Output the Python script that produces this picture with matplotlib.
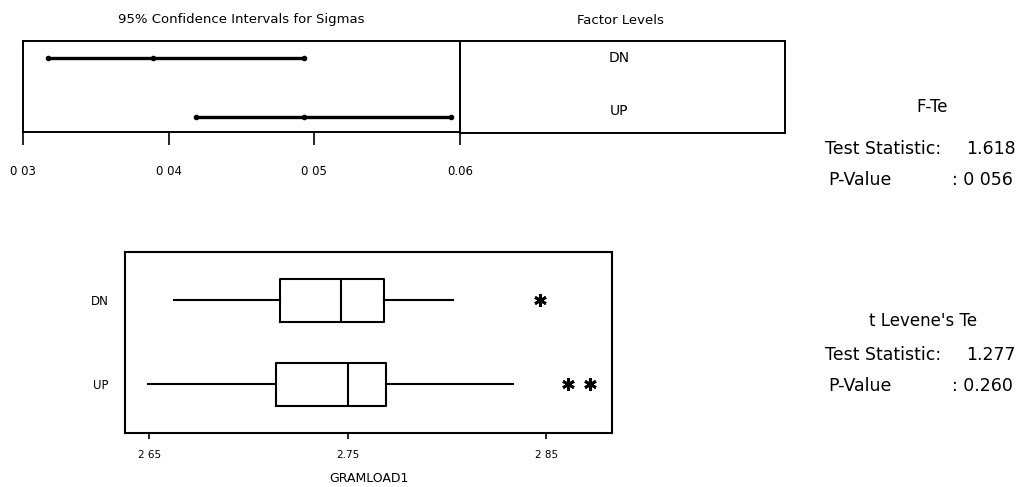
import matplotlib.pyplot as plt

# factor levels and 95% CI for sigma
levels = ["DN", "UP"]
sigma_lower = [0.0317, 0.0419]
sigma_point = [0.0389, 0.0493]
sigma_upper = [0.0493, 0.0594]
sigma_ticks = [0.03, 0.04, 0.05, 0.06]
sigma_tick_labels = ["0 03", "0 04", "0 05", "0.06"]

# boxplot summaries for GRAMLOAD1
whisker_low = [2.6625, 2.6492]
q1 = [2.7160, 2.7138]
median = [2.7463, 2.7502]
q3 = [2.7683, 2.7690]
whisker_high = [2.8028, 2.8330]
outliers = [[2.8466], [2.8610, 2.8719]]
load_ticks = [2.65, 2.75, 2.85]
load_tick_labels = ["2 65", "2.75", "2 85"]

f_test = ["1.618", "0 056"]
levene_test = ["1.277", "0.260"]

W, H = 1029, 487


def px_axes(fig, x0, y0, x1, y1):
    return fig.add_axes([x0 / W, 1 - y1 / H, (x1 - x0) / W, (y1 - y0) / H])


def px_text(fig, x, y, s, ha="left", size=12):
    fig.text(x / W, 1 - y / H, s, ha=ha, va="center", fontsize=size)


def main() -> int:
    plt.rcParams["font.family"] = "DejaVu Sans"
    fig = plt.figure(figsize=(W / 100, H / 100), dpi=100)
    positions = [1, 0]

    # confidence intervals for sigmas
    ax_ci = px_axes(fig, 23, 41, 460, 132)
    for pos, lo, pt, hi in zip(positions, sigma_lower, sigma_point, sigma_upper):
        ax_ci.plot([lo, hi], [pos, pos], color="black", lw=2.4, solid_capstyle="round")
        ax_ci.plot([lo, pt, hi], [pos] * 3, "o", color="black", ms=3)
    ax_ci.set_xlim(0.03, 0.06)
    ax_ci.set_ylim(-0.26, 1.29)
    ax_ci.set_yticks([])
    ax_ci.set_xticks(sigma_ticks, sigma_tick_labels)
    ax_ci.tick_params(axis="x", direction="out", length=9, width=1.2, labelsize=8.5, pad=15)
    for spine in ax_ci.spines.values():
        spine.set_linewidth(1.4)
    px_text(fig, 241, 20, "95% Confidence Intervals for Sigmas", ha="center", size=9.5)

    # factor level names
    ax_fac = px_axes(fig, 460, 41, 785, 133)
    ax_fac.set_xticks([])
    ax_fac.set_yticks([])
    for spine in ax_fac.spines.values():
        spine.set_linewidth(1.4)
    for lvl, yfrac in zip(levels, [0.81, 0.24]):
        ax_fac.text(0.49, yfrac, lvl, transform=ax_fac.transAxes,
                    ha="center", va="center", fontsize=10)
    px_text(fig, 620, 20, "Factor Levels", ha="center", size=9.5)

    # boxplots
    ax_box = px_axes(fig, 125, 252, 612, 433)
    stats = [
        dict(label=lvl, whislo=wl, q1=a, med=m, q3=b, whishi=wh, fliers=fl)
        for lvl, wl, a, m, b, wh, fl in zip(levels, whisker_low, q1, median, q3,
                                             whisker_high, outliers)
    ]
    line = dict(color="black", linewidth=1.5)
    ax_box.bxp(
        stats,
        positions=positions,
        orientation="horizontal",
        widths=0.51,
        showcaps=False,
        boxprops=line,
        whiskerprops=line,
        medianprops=line,
        flierprops=dict(marker=(6, 2, 0), markersize=9, markeredgecolor="black",
                        markeredgewidth=2),
    )
    ax_box.set_xlim(2.6377, 2.883)
    ax_box.set_ylim(-0.578, 1.573)
    ax_box.set_xticks(load_ticks, load_tick_labels)
    ax_box.tick_params(axis="x", direction="out", length=4, width=1.2, labelsize=7.5, pad=8)
    ax_box.tick_params(axis="y", length=0, labelsize=8.5, pad=12)
    for spine in ax_box.spines.values():
        spine.set_linewidth(1.5)
    ax_box.set_xlabel("GRAMLOAD1", fontsize=9, labelpad=9)

    # test results
    px_text(fig, 932, 107, "F-Te", ha="center")
    px_text(fig, 825, 149, "Test Statistic:", size=12.5)
    px_text(fig, 966, 149, f_test[0], size=12.5)
    px_text(fig, 828, 180, "P-Value", size=12.5)
    px_text(fig, 952, 180, f": {f_test[1]}", size=12.5)

    px_text(fig, 923, 321, "t Levene's Te", ha="center")
    px_text(fig, 825, 355, "Test Statistic:", size=12.5)
    px_text(fig, 966, 355, levene_test[0], size=12.5)
    px_text(fig, 828, 386, "P-Value", size=12.5)
    px_text(fig, 952, 386, f": {levene_test[1]}", size=12.5)

    fig.savefig("out.png", dpi=100)
    plt.close(fig)
    return 0


if __name__ == "__main__":
    raise SystemExit(main())
